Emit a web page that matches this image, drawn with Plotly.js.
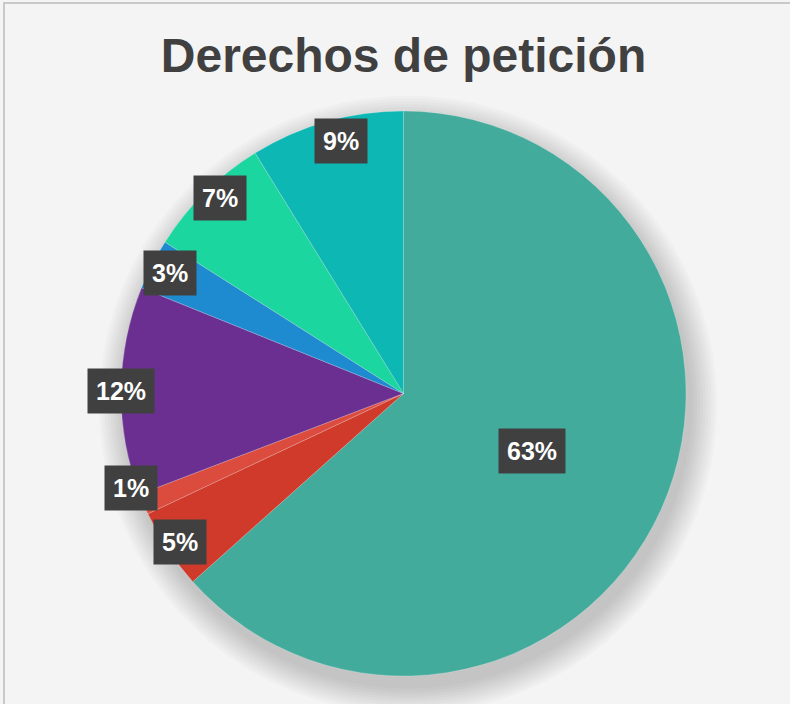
<!DOCTYPE html>
<html>
<head>
<meta charset="utf-8">
<script src="https://cdn.plot.ly/plotly-3.0.1.min.js"></script>
<style>html,body{margin:0;padding:0;background:#f4f4f4;}#chart{width:790px;height:704px;}</style>
</head>
<body>
<div id="chart"></div>
<script>
// ---- data ----
const categories = ["Categoría A", "Categoría B", "Categoría C", "Categoría D", "Categoría E", "Categoría F", "Categoría G"];
const values = [63.4, 4.6, 1.2, 11.9, 2.9, 7.2, 8.8];
const colors = ["#43ab9b", "#cf3a2a", "#dc4c3e", "#6a2f91", "#1e8ad0", "#1cd6a0", "#0db8b4"];
const titleText = "Derechos de petición";

// ---- label placement (style: radial fraction of radius and angular nudge, degrees) ----
const labelR = [0.5, 0.95, 1.02, 1.0, 0.93, 0.95, 0.92];
const labelDA = [0, 0, 4, 0, 0, 1.5, 2];

const total = values.reduce((a, b) => a + b, 0);
let cum = 0;
const annotations = values.map((v, i) => {
  const mid = ((cum + v / 2) / total * 360 + labelDA[i]) * Math.PI / 180;
  cum += v;
  const r = labelR[i];
  return {
    xref: "paper", yref: "paper",
    x: 0.5 + 0.5 * r * Math.sin(mid),
    y: 0.5 + 0.5 * r * Math.cos(mid),
    text: Math.round(v / total * 100) + "%",
    showarrow: false,
    bgcolor: "#404040",
    borderpad: 8,
    font: {family: "Liberation Sans, Arial, sans-serif", size: 25, color: "#ffffff", weight: "bold"},
    xanchor: "center", yanchor: "middle"
  };
});

// soft shadow behind the pie
const shapes = [];
for (let k = 0; k < 10; k++) {
  const g = 0.002 + k * 0.005;
  shapes.push({
    type: "circle", xref: "paper", yref: "paper", layer: "below",
    x0: 0.0 - g + 0.008, x1: 1.0 + g + 0.008,
    y0: 0.0 - g - 0.02, y1: 1.0 + g - 0.02,
    fillcolor: "rgba(0,0,0,0.018)", line: {width: 0}
  });
}

const trace = {
  type: "pie",
  labels: categories,
  values: values,
  sort: false,
  direction: "clockwise",
  rotation: 0,
  textinfo: "none",
  hoverinfo: "label+percent",
  marker: {colors: colors, line: {color: "rgba(255,255,255,0.35)", width: 0.6}},
  showlegend: false,
  domain: {x: [0, 1], y: [0, 1]}
};

const layout = {
  width: 790, height: 704,
  margin: {l: 121, r: 104, t: 111, b: 28},
  paper_bgcolor: "#f4f4f4",
  plot_bgcolor: "rgba(0,0,0,0)",
  title: {
    text: titleText,
    x: 0.5, xref: "paper", xanchor: "center",
    y: 0.922, yref: "container", yanchor: "middle",
    font: {family: "Liberation Sans, Arial, sans-serif", size: 48, color: "#404040", weight: "bold"}
  },
  annotations: annotations,
  shapes: shapes.concat([{
    type: "rect", xref: "paper", yref: "paper", layer: "below",
    x0: -121/565 + 4/565, x1: 1 + 104/565 + 2/565,
    y0: -28/565 - 2/565, y1: 1 + 111/565 - 3/565,
    line: {color: "#c9c9c9", width: 2}, fillcolor: "rgba(0,0,0,0)"
  }])
};

Plotly.newPlot("chart", [trace], layout, {displayModeBar: false, staticPlot: true});
</script>
</body>
</html>
